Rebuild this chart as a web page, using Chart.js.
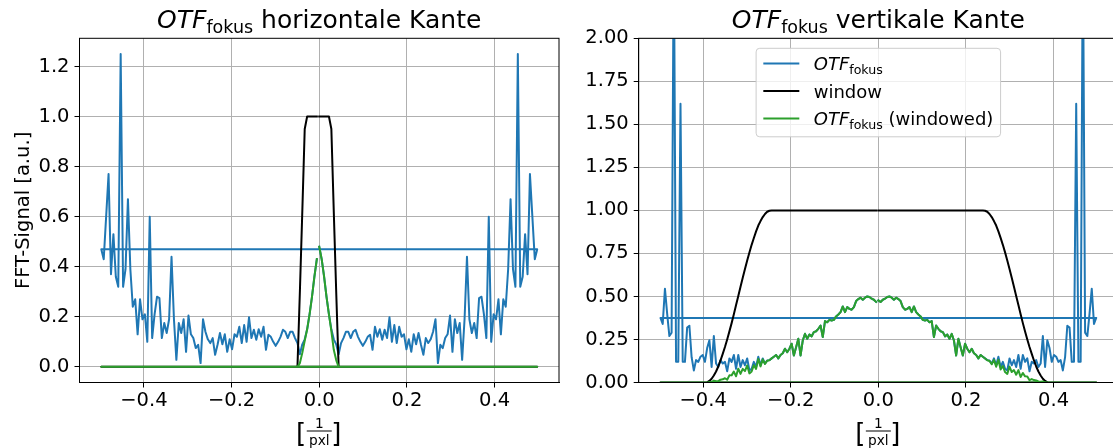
<!DOCTYPE html>
<html>
<head>
<meta charset="utf-8">
<script src="https://cdn.jsdelivr.net/npm/chart.js@4/dist/chart.umd.min.js"></script>
<style>
  html, body { margin: 0; padding: 0; background: #fff; }
  body { position: relative; width: 1113px; height: 448px; overflow: hidden; }
  canvas { position: absolute; top: 0; }
  #cHoriz { left: 0; }
  #cVert { left: 560px; }
</style>
</head>
<body>
<canvas id="cHoriz" width="560" height="448"></canvas>
<canvas id="cVert" width="560" height="448"></canvas>
<script>
// ---------- horizontal edge: FFT with N = 181 samples (bins k = 0 .. 90) ----------
const horizN = 181;
// |OTF| at positive frequency bins k = 0..90 (spectrum of a real edge: mirror symmetric)
const horizOtf = [
  0.48, 0.43, 0.36, 0.28, 0.21, 0.15, 0.11, 0.09, 0.05, 0.095,
  0.115, 0.14, 0.14, 0.115, 0.14, 0.148, 0.12, 0.10, 0.084, 0.10,
  0.12, 0.128, 0.068, 0.16, 0.12, 0.15, 0.108, 0.148, 0.115, 0.198,
  0.10, 0.167, 0.095, 0.16, 0.12, 0.13, 0.07, 0.11, 0.06, 0.13,
  0.09, 0.135, 0.088, 0.048, 0.115, 0.095, 0.11, 0.14, 0.19, 0.015,
  0.088, 0.075, 0.115, 0.13, 0.205, 0.06, 0.19, 0.135, 0.175, 0.028,
  0.19, 0.44, 0.19, 0.135, 0.175, 0.115, 0.275, 0.28, 0.21, 0.115,
  0.60, 0.10, 0.21, 0.19, 0.27, 0.13, 0.27, 0.24, 0.39, 0.67,
  0.39, 0.32, 1.25, 0.32, 0.36, 0.53, 0.37, 0.77, 0.60, 0.43,
  0.47
];
// window at bins k = 0..90
const horizWinPos = [
  1, 1, 1, 1, 1, 0.95, 0.62, 0.30, 0, 0,
  0, 0, 0, 0, 0, 0, 0, 0, 0, 0,
  0, 0, 0, 0, 0, 0, 0, 0, 0, 0,
  0, 0, 0, 0, 0, 0, 0, 0, 0, 0,
  0, 0, 0, 0, 0, 0, 0, 0, 0, 0,
  0, 0, 0, 0, 0, 0, 0, 0, 0, 0,
  0, 0, 0, 0, 0, 0, 0, 0, 0, 0,
  0, 0, 0, 0, 0, 0, 0, 0, 0, 0,
  0, 0, 0, 0, 0, 0, 0, 0, 0, 0,
  0
];
// window at bins -1 .. -90
const horizWinNeg = [
  1, 1, 1, 1, 1, 0.95, 0.62, 0.30, 0, 0,
  0, 0, 0, 0, 0, 0, 0, 0, 0, 0,
  0, 0, 0, 0, 0, 0, 0, 0, 0, 0,
  0, 0, 0, 0, 0, 0, 0, 0, 0, 0,
  0, 0, 0, 0, 0, 0, 0, 0, 0, 0,
  0, 0, 0, 0, 0, 0, 0, 0, 0, 0,
  0, 0, 0, 0, 0, 0, 0, 0, 0, 0,
  0, 0, 0, 0, 0, 0, 0, 0, 0, 0,
  0, 0, 0, 0, 0, 0, 0, 0, 0, 0
];

// ---------- vertical edge: FFT with N = 197 samples (bins k = 0 .. 98) ----------
const vertN = 197;
const vertOtf = [
  0.477, 0.468, 0.481, 0.487, 0.497, 0.50, 0.493, 0.481, 0.493, 0.485,
  0.473, 0.438, 0.423, 0.428, 0.438, 0.409, 0.442, 0.409, 0.395, 0.384,
  0.364, 0.36, 0.364, 0.35, 0.357, 0.264, 0.331, 0.312, 0.298, 0.293,
  0.268, 0.279, 0.254, 0.283, 0.244, 0.157, 0.254, 0.205, 0.157, 0.225,
  0.196, 0.176, 0.196, 0.17, 0.16, 0.14, 0.16, 0.15, 0.14, 0.13,
  0.128, 0.11, 0.14, 0.10, 0.15, 0.09, 0.12, 0.08, 0.07, 0.14,
  0.10, 0.13, 0.09, 0.16, 0.08, 0.16, 0.12, 0.14, 0.065, 0.12,
  0.11, 0.13, 0.09, 0.11, 0.27, 0.09, 0.245, 0.20, 0.12, 0.16,
  0.15, 0.12, 0.13, 0.07, 0.147, 0.33, 0.32, 0.12, 0.12, 1.62,
  0.12, 0.12, 2.6, 0.29, 0.27, 0.40, 0.545, 0.34, 0.375
];
const vertWinPos = [
  1, 1, 1, 1, 1, 1, 1, 1, 1, 1,
  1, 1, 1, 1, 1, 1, 1, 1, 1, 1,
  1, 1, 1, 1, 1, 1, 1, 1, 1, 1,
  1, 1, 1, 1, 1, 1, 1, 1, 1, 1,
  1, 1, 1, 1, 1, 1, 1, 1, 0.998, 0.992,
  0.979, 0.961, 0.938, 0.912, 0.878, 0.84, 0.80, 0.756, 0.709, 0.66,
  0.608, 0.556, 0.503, 0.45, 0.396, 0.345, 0.297, 0.25, 0.206, 0.166,
  0.128, 0.093, 0.064, 0.041, 0.022, 0.009, 0.002, 0, 0, 0,
  0, 0, 0, 0, 0, 0, 0, 0, 0, 0,
  0, 0, 0, 0, 0, 0, 0, 0, 0
];
const vertWinNeg = [
  1, 1, 1, 1, 1, 1, 1, 1, 1, 1,
  1, 1, 1, 1, 1, 1, 1, 1, 1, 1,
  1, 1, 1, 1, 1, 1, 1, 1, 1, 1,
  1, 1, 1, 1, 1, 1, 1, 1, 1, 1,
  1, 1, 1, 1, 1, 1, 1, 1, 0.998, 0.992,
  0.979, 0.961, 0.938, 0.912, 0.878, 0.84, 0.80, 0.756, 0.709, 0.66,
  0.608, 0.556, 0.503, 0.45, 0.396, 0.345, 0.297, 0.25, 0.206, 0.166,
  0.128, 0.093, 0.064, 0.041, 0.022, 0.009, 0.002, 0, 0, 0,
  0, 0, 0, 0, 0, 0, 0, 0, 0, 0,
  0, 0, 0, 0, 0, 0, 0, 0
];

// ---------- ticks ----------
const freqTicks = [-0.4, -0.2, 0.0, 0.2, 0.4];
const horizYTicks = [0.0, 0.2, 0.4, 0.6, 0.8, 1.0, 1.2];
const vertYTicks = [0.0, 0.25, 0.5, 0.75, 1.0, 1.25, 1.5, 1.75, 2.0];

const COLORS = { otf: '#1f77b4', window: '#000000', windowed: '#2ca02c' };
const F = '"DejaVu Sans", sans-serif';
Chart.defaults.font.family = F;

// points in the order of np.fft.fftfreq: 0, 1/N, ..., M/N, -M/N, ..., -1/N
function fftSeries(n, pos, neg) {
  const pts = pos.map((v, k) => ({ x: k / n, y: v }));
  for (let k = neg.length; k >= 1; k--) pts.push({ x: -k / n, y: neg[k - 1] });
  return pts;
}

function buildSeries(n, otf, winPos, winNeg) {
  const otfNeg = otf.slice(1);
  return {
    otf: fftSeries(n, otf, otfNeg),
    win: fftSeries(n, winPos, winNeg),
    windowed: fftSeries(n, otf.map((v, k) => v * winPos[k]), otfNeg.map((v, i) => v * winNeg[i]))
  };
}

function fmt(v, d) { return v.toFixed(d).replace('-', '\u2212'); }

// text made of runs: [text, size, italic, baseline shift]
function drawRuns(ctx, runs, x, y, align) {
  const widths = runs.map(r => { ctx.font = (r[2] ? 'italic ' : '') + r[1] + 'px ' + F; return ctx.measureText(r[0]).width; });
  const total = widths.reduce((a, b) => a + b, 0);
  let cx = align === 'center' ? x - total / 2 : x;
  ctx.textAlign = 'left';
  runs.forEach((r, i) => {
    ctx.font = (r[2] ? 'italic ' : '') + r[1] + 'px ' + F;
    ctx.fillText(r[0], cx, y + r[3]);
    cx += widths[i];
  });
  return total;
}

function drawLegend(ctx, area, entries) {
  const fs = 18, pad = 0.4 * fs, handle = 2 * fs, gap = 0.8 * fs;
  const widths = entries.map(e => e.runs.reduce((s, r) => { ctx.font = (r[2] ? 'italic ' : '') + r[1] + 'px ' + F; return s + ctx.measureText(r[0]).width; }, 0));
  const w = pad + handle + gap + Math.max(...widths) + pad;
  const h = 88.5;
  const x0 = (area.left + area.right) / 2 - w / 2;
  const y0 = area.top + 10;
  ctx.save();
  ctx.beginPath();
  ctx.roundRect(x0, y0, w, h, 3.6);
  ctx.fillStyle = 'rgba(255,255,255,0.8)';
  ctx.fill();
  ctx.strokeStyle = '#cccccc';
  ctx.lineWidth = 1;
  ctx.stroke();
  const rows = [15.2, 42.7, 70.2];
  entries.forEach((e, i) => {
    const ry = y0 + rows[i];
    ctx.strokeStyle = e.color;
    ctx.lineWidth = 2;
    ctx.lineCap = 'square';
    ctx.beginPath();
    ctx.moveTo(x0 + pad + 1, ry);
    ctx.lineTo(x0 + pad + handle - 1, ry);
    ctx.stroke();
    ctx.fillStyle = '#000';
    ctx.textBaseline = 'alphabetic';
    drawRuns(ctx, e.runs, x0 + pad + handle + gap, ry + 6.5, 'left');
  });
  ctx.restore();
}

function makePanel(canvasId, cfg) {
  const s = buildSeries(cfg.n, cfg.otf, cfg.winPos, cfg.winNeg);
  const half = (cfg.otf.length - 1) / cfg.n;
  const xLim = half * 1.1;
  const decor = {
    id: 'decor',
    afterDatasetsDraw(chart) {
      const { ctx, chartArea: a } = chart;
      ctx.save();
      ctx.strokeStyle = '#000';
      ctx.lineWidth = 1;
      ctx.strokeRect(a.left, a.top, a.right - a.left, a.bottom - a.top);
      ctx.restore();
      if (cfg.legend) drawLegend(ctx, a, cfg.legend);
    },
    afterDraw(chart) {
      const { ctx, chartArea: a } = chart;
      const cx = (a.left + a.right) / 2;
      ctx.save();
      ctx.fillStyle = '#000';
      ctx.textBaseline = 'alphabetic';
      drawRuns(ctx, cfg.title, cx, 28, 'center');
      // x label: [ 1 / pxl ]
      const by = 431;
      ctx.font = '13.7px ' + F;
      ctx.textAlign = 'center';
      ctx.fillText('1', cx, by - 3);
      ctx.fillText('pxl', cx, by + 13.5);
      ctx.fillRect(cx - 12.5, by - 0.5, 25, 1);
      ctx.font = '26px ' + F;
      ctx.textAlign = 'right';
      ctx.fillText('[', cx - 13, 442);
      ctx.textAlign = 'left';
      ctx.fillText(']', cx + 12, 442);
      if (cfg.yLabel) {
        ctx.translate(28.5, (a.top + a.bottom) / 2);
        ctx.rotate(-Math.PI / 2);
        ctx.font = '19.5px ' + F;
        ctx.textAlign = 'center';
        ctx.fillText(cfg.yLabel, 0, 0);
      }
      ctx.restore();
    }
  };
  const line = (label, data, color, order) => ({
    label, data, borderColor: color, backgroundColor: color, borderWidth: 2,
    borderCapStyle: 'square', borderJoinStyle: 'round',
    pointRadius: 0, showLine: true, fill: false, tension: 0, order
  });
  return new Chart(document.getElementById(canvasId), {
    type: 'scatter',
    data: {
      datasets: [
        line('OTF_fokus', s.otf, COLORS.otf, 3),
        line('window', s.win, COLORS.window, 2),
        line('OTF_fokus (windowed)', s.windowed, COLORS.windowed, 1)
      ]
    },
    options: {
      responsive: false,
      animation: false,
      devicePixelRatio: 1,
      events: [],
      layout: { padding: { top: 38.3, right: cfg.padRight, left: 0, bottom: 0 } },
      plugins: { legend: { display: false }, tooltip: { enabled: false }, title: { display: false } },
      scales: {
        x: {
          type: 'linear', min: -xLim, max: xLim,
          afterBuildTicks: sc => { sc.ticks = freqTicks.map(v => ({ value: v })); },
          afterFit: sc => { sc.height = 65.5; },
          grid: { color: '#b0b0b0', lineWidth: 1, tickColor: '#000', tickLength: 5, tickWidth: 1 },
          border: { display: true, color: '#000', width: 1 },
          ticks: { color: '#000', font: { size: 19.5 }, padding: 2, maxRotation: 0, minRotation: 0, autoSkip: false,
                   callback: v => fmt(v, 1) }
        },
        y: {
          type: 'linear', min: cfg.yMin, max: cfg.yMax,
          afterBuildTicks: sc => { sc.ticks = cfg.yTicks.map(v => ({ value: v })); },
          afterFit: sc => { sc.width = cfg.yWidth; },
          grid: { color: '#b0b0b0', lineWidth: 1, tickColor: '#000', tickLength: 5, tickWidth: 1 },
          border: { display: true, color: '#000', width: 1 },
          ticks: { color: '#000', font: { size: 19.5 }, padding: 5, autoSkip: false,
                   callback: v => fmt(v, cfg.yDecimals) }
        }
      }
    },
    plugins: [decor]
  });
}

makePanel('cHoriz', {
  n: horizN, otf: horizOtf, winPos: horizWinPos, winNeg: horizWinNeg,
  yMin: -0.0625, yMax: 1.3125, yTicks: horizYTicks, yDecimals: 1,
  yWidth: 79.5, padRight: 1,
  title: [['OTF', 25, true, 0], ['fokus', 17.5, false, 5], [' horizontale Kante', 25, false, 0]],
  yLabel: 'FFT-Signal [a.u.]'
});

makePanel('cVert', {
  n: vertN, otf: vertOtf, winPos: vertWinPos, winNeg: vertWinNeg,
  yMin: 0, yMax: 2, yTicks: vertYTicks, yDecimals: 2,
  yWidth: 78.7, padRight: 2,
  title: [['OTF', 25, true, 0], ['fokus', 17.5, false, 5], [' vertikale Kante', 25, false, 0]],
  legend: [
    { color: COLORS.otf, runs: [['OTF', 18, true, 0], ['fokus', 12.6, false, 3.7]] },
    { color: COLORS.window, runs: [['window', 18, false, 0]] },
    { color: COLORS.windowed, runs: [['OTF', 18, true, 0], ['fokus', 12.6, false, 3.7], [' (windowed)', 18, false, 0]] }
  ]
});
</script>
</body>
</html>
